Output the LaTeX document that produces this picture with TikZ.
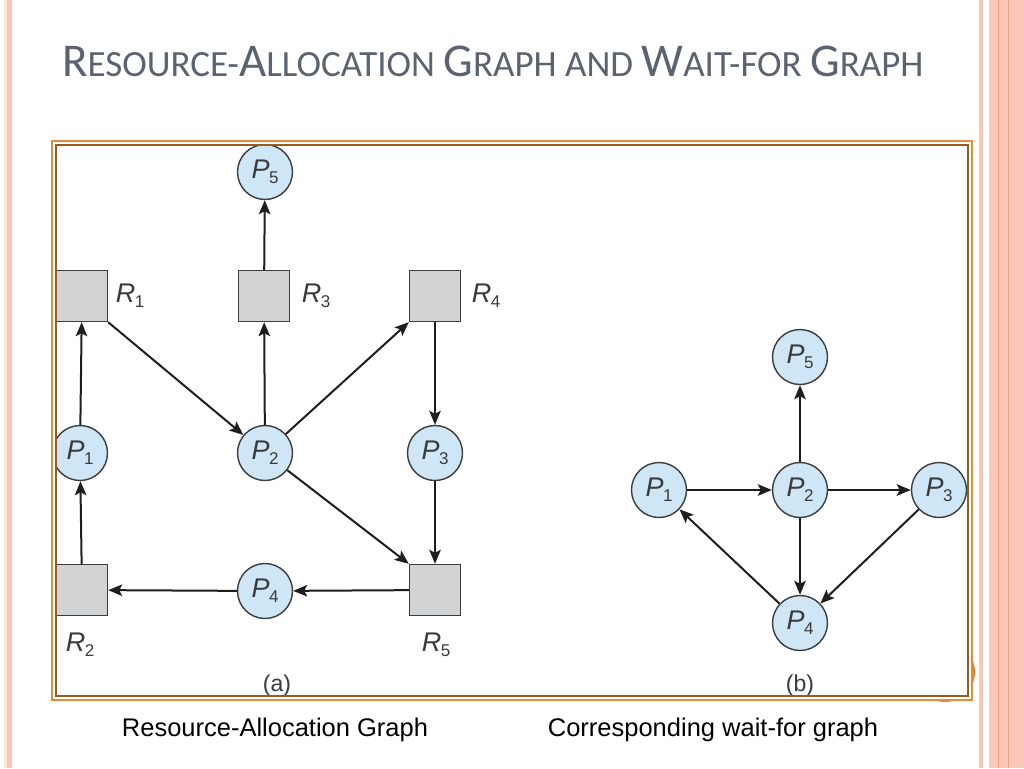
\documentclass[tikz,border=0pt]{standalone}
\usepackage{fontspec}
\setmainfont{Liberation Sans}
\newfontfamily\titlefont{Carlito}
\usetikzlibrary{arrows.meta}
\definecolor{nodefill}{HTML}{CFE6F6}
\definecolor{nodeline}{HTML}{3C3C3C}
\definecolor{resfill}{HTML}{D2D3D5}
\definecolor{edgecol}{HTML}{1E1E1E}
\definecolor{titlecol}{HTML}{5B6370}
\definecolor{stripe}{HTML}{FBC8B8}
\definecolor{stripelight}{HTML}{FDE3DA}
\definecolor{stripedark}{HTML}{F0A080}
\definecolor{frameorange}{HTML}{E8893A}
\definecolor{framebrown}{HTML}{9C5A1C}
\definecolor{decoorange}{HTML}{F08020}
\definecolor{labelcol}{HTML}{3A3A3A}
\newcommand\CapA[1]{{\fontsize{47}{47}\selectfont #1}}
\newcommand\SmA[1]{{\fontsize{37}{37}\selectfont #1}}
\newcommand\plbl[2]{\textit{#1}\kern-0.5pt\raisebox{-0.35ex}{\fontsize{17}{17}\selectfont #2}}
\tikzset{
  proc/.style={circle, draw=nodeline, fill=nodefill, line width=1.4pt, minimum size=55pt, inner sep=0pt,
    text=labelcol, font=\fontsize{27}{27}\selectfont},
  res/.style={rectangle, draw=nodeline, fill=resfill, line width=1.4pt, minimum size=51pt, inner sep=0pt},
  rlabel/.style={text=labelcol, font=\fontsize{27}{27}\selectfont, inner sep=0pt},
  edge/.style={line width=2pt, draw=edgecol, -{Stealth[length=14pt,width=11.5pt,inset=3pt]}},
  caption/.style={font=\fontsize{25.5}{25.5}\selectfont, text=black, inner sep=0pt},
  sublabel/.style={font=\fontsize{23}{23}\selectfont, text=labelcol, inner sep=0pt}
}
\begin{document}
\begin{tikzpicture}[x=1pt,y=-1pt]
\useasboundingbox (0,0) rectangle (1024,768);
\fill[white] (0,0) rectangle (1024,768);
% decorative stripes
\fill[stripelight] (4,0) rectangle (7,768);
\fill[stripe] (7,0) rectangle (12,768);
\fill[stripe] (979,0) rectangle (983,768);
\fill[stripe] (989,0) rectangle (1024,768);
\draw[stripedark, line width=0.8pt] (998,0) -- (998,768);
\draw[stripedark, line width=0.8pt] (1008,0) -- (1008,768);
% title
\node[anchor=base west, inner sep=0pt, text=titlecol, font=\titlefont\fontsize{37}{37}\selectfont] (title) at (62,77)
  {\CapA{R}\SmA{ESOURCE-}\CapA{A}\SmA{LLOCATION} \CapA{G}\SmA{RAPH AND} \CapA{W}\SmA{AIT-FOR} \CapA{G}\SmA{RAPH}};
% orange decoration behind frame
\fill[decoorange] (945,672) circle (30);
% frame
\fill[white] (52,141) rectangle (972,700);
\draw[frameorange, line width=2pt] (52,141) rectangle (972,700);
\begin{scope}
\clip (56,145) rectangle (968,696);
% graph (a)
\node[proc] (aP5) at (265,172) {\plbl{P}{5}};
\node[res] (aR1) at (82,296) {};
\node[res] (aR3) at (264,296) {};
\node[res] (aR4) at (435,296) {};
\node[proc] (aP1) at (80,453) {\plbl{P}{1}};
\node[proc] (aP2) at (265,453) {\plbl{P}{2}};
\node[proc] (aP3) at (435,453) {\plbl{P}{3}};
\node[res] (aR2) at (82,590) {};
\node[proc] (aP4) at (265,591) {\plbl{P}{4}};
\node[res] (aR5) at (435,590) {};
\end{scope}
\node[rlabel] (lR1) at (130,296) {\plbl{R}{1}};
\node[rlabel] (lR3) at (316,296) {\plbl{R}{3}};
\node[rlabel] (lR4) at (486,296) {\plbl{R}{4}};
\node[rlabel] (lR2) at (80,645) {\plbl{R}{2}};
\node[rlabel] (lR5) at (436,645) {\plbl{R}{5}};
\draw[edge] (aR3) -- (aP5);
\draw[edge] (aP2) -- (aR3);
\draw[edge] (aR1.south east) -- (aP2);
\draw[edge] (aP1) -- (aR1);
\draw[edge] (aR2) -- (aP1);
\draw[edge] (aP2) -- (aR4.south west);
\draw[edge] (aR4) -- (aP3);
\draw[edge] (aP3) -- (aR5);
\draw[edge] (aP2) -- (aR5.north west);
\draw[edge] (aR5) -- (aP4);
\draw[edge] (aP4) -- (aR2);
\node[sublabel] (la) at (277,686) {(a)};
% graph (b)
\node[proc] (bP5) at (800,357) {\plbl{P}{5}};
\node[proc] (bP1) at (659,490) {\plbl{P}{1}};
\node[proc] (bP2) at (800,490) {\plbl{P}{2}};
\node[proc] (bP3) at (939,490) {\plbl{P}{3}};
\node[proc] (bP4) at (800,623) {\plbl{P}{4}};
\draw[edge] (bP2) -- (bP5);
\draw[edge] (bP1) -- (bP2);
\draw[edge] (bP2) -- (bP3);
\draw[edge] (bP2) -- (bP4);
\draw[edge] (bP3) -- (bP4);
\draw[edge] (bP4) -- (bP1);
\node[sublabel] (lb) at (800,686) {(b)};
% inner frame line
\draw[framebrown, line width=1.5pt] (56,145) rectangle (968,696);
% captions
\node[caption] (capa) at (275,730) {Resource-Allocation Graph};
\node[caption] (capb) at (713,730) {Corresponding wait-for graph};
\end{tikzpicture}
\end{document}
